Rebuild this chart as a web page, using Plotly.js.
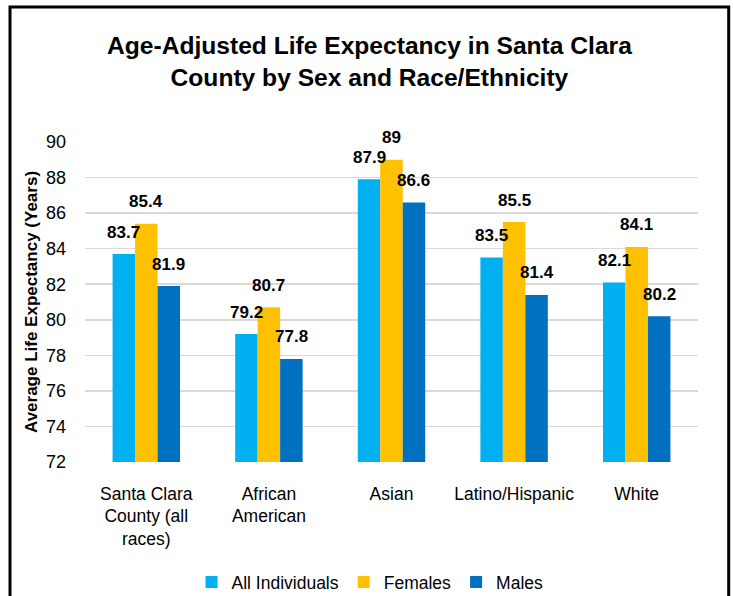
<!DOCTYPE html>
<html>
<head>
<meta charset="utf-8">
<script src="https://cdn.plot.ly/plotly-3.0.1.min.js"></script>
<style>
html,body{margin:0;padding:0;background:#fff;}
#chart{width:733px;height:596px;}
</style>
</head>
<body>
<div id="chart"></div>
<script>
const categories = ["Santa Clara<br>County (all<br>races)", "African<br>American", "Asian", "Latino/Hispanic", "White"];
const seriesNames = ["All Individuals", "Females", "Males"];
const allIndividuals = [83.7, 79.2, 87.9, 83.5, 82.1];
const females = [85.4, 80.7, 89, 85.5, 84.1];
const males = [81.9, 77.8, 86.6, 81.4, 80.2];
const yTicks = [72, 74, 76, 78, 80, 82, 84, 86, 88, 90];

const colors = ["#00B0F0", "#FFC000", "#0070C0"];
const seriesValues = [allIndividuals, females, males];
const FONT = "'Liberation Sans Narrow', 'Arial Narrow', 'Liberation Sans', Arial, sans-serif";

const bargap = 0.45;
const traces = seriesValues.map((vals, i) => ({
  type: "bar",
  name: seriesNames[i],
  x: categories,
  y: vals,
  marker: {color: colors[i]},
  hoverinfo: "none"
}));

const barW = (1 - bargap) / 3;
const annotations = [];
seriesValues.forEach((vals, i) => {
  vals.forEach((v, j) => {
    annotations.push({
      x: j + (i - 1) * barW,
      y: v,
      xref: "x",
      yref: "y",
      text: String(v),
      showarrow: false,
      yanchor: "middle",
      yshift: 22,
      font: {family: FONT, size: 17, color: "#000", weight: "bold"}
    });
  });
});

const L = 85, R = 35, T = 142, B = 134;
const W = 733, H = 596;
const pw = W - L - R, ph = H - T - B;
const px = X => (X - L) / pw;
const py = Y => (H - B - Y) / ph;

const layout = {
  width: W,
  height: H,
  margin: {l: L, r: R, t: T, b: B, autoexpand: false},
  paper_bgcolor: "#fff",
  plot_bgcolor: "#fff",
  font: {family: FONT, color: "#000"},
  title: {
    text: "<b>Age-Adjusted Life Expectancy in Santa Clara<br>County by Sex and Race/Ethnicity</b>",
    font: {family: FONT, size: 24.6, color: "#000"},
    x: 0.504,
    xref: "container",
    xanchor: "center",
    y: 0.91,
    yref: "container",
    yanchor: "top"
  },
  barmode: "group",
  bargap: bargap,
  bargroupgap: 0,
  xaxis: {
    type: "category",
    tickfont: {family: FONT, size: 17.5, color: "#000"},
    showgrid: false,
    showline: false,
    ticks: "",
    ticklabelstandoff: 19,
    automargin: false,
    fixedrange: true
  },
  yaxis: {
    range: [72, 90],
    tickvals: yTicks,
    ticktext: yTicks.map(String),
    tickfont: {family: FONT, size: 18, color: "#000"},
    showgrid: true,
    gridcolor: "#d9d9d9",
    gridwidth: 1.5,
    zeroline: false,
    showline: false,
    ticks: "",
    ticklabelstandoff: 18,
    automargin: false,
    fixedrange: true,
    title: {
      text: "<b>Average Life Expectancy (Years)</b>",
      font: {family: FONT, size: 17, color: "#000"},
      standoff: 4
    }
  },
  showlegend: true,
  legend: {
    orientation: "h",
    xref: "container",
    yref: "container",
    x: 370 / W,
    xanchor: "center",
    y: (H - 582) / H,
    yanchor: "middle",
    font: {family: FONT, size: 17.5, color: "#000"},
    itemwidth: 30,
    traceorder: "normal",
    bgcolor: "rgba(0,0,0,0)"
  },
  annotations: annotations,
  shapes: [{
    type: "rect",
    xref: "paper",
    yref: "paper",
    x0: px(10),
    x1: px(728.7),
    y0: py(640),
    y1: py(7),
    line: {color: "#000", width: 3},
    fillcolor: "rgba(0,0,0,0)",
    layer: "above"
  }]
};

Plotly.newPlot("chart", traces, layout, {displayModeBar: false, staticPlot: true});
</script>
</body>
</html>
